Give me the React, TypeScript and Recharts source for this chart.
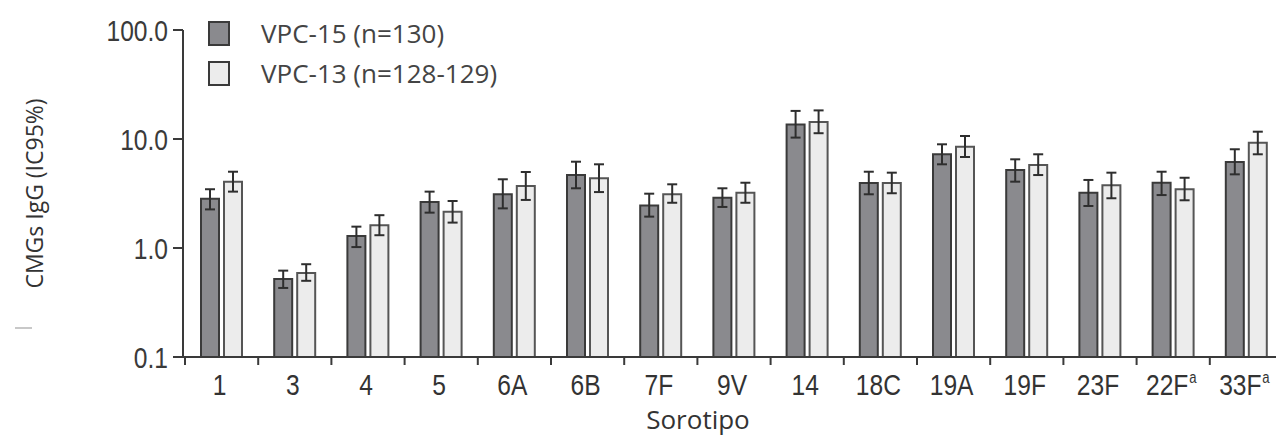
import { BarChart, Bar, XAxis, YAxis, ErrorBar, Legend, Label } from 'recharts'

// Serotypes along the category axis; 'a' marks the footnoted ones
const serotypes = ['1', '3', '4', '5', '6A', '6B', '7F', '9V', '14', '18C', '19A', '19F', '23F', '22F', '33F']
const footnotes = ['', '', '', '', '', '', '', '', '', '', '', '', '', 'a', 'a']

// IgG geometric mean concentrations with 95% CI
const vpc15Gmc = [2.83, 0.52, 1.29, 2.64, 3.11, 4.67, 2.46, 2.89, 13.6, 3.95, 7.24, 5.19, 3.22, 3.97, 6.15]
const vpc15Lower = [2.26, 0.43, 1.02, 2.11, 2.31, 3.53, 1.94, 2.38, 10.3, 3.11, 5.86, 4.06, 2.43, 3.06, 4.74]
const vpc15Upper = [3.46, 0.62, 1.57, 3.29, 4.27, 6.19, 3.15, 3.53, 18.1, 5.01, 8.94, 6.51, 4.21, 5.01, 8.05]

const vpc13Gmc = [4.06, 0.59, 1.62, 2.15, 3.71, 4.36, 3.11, 3.22, 14.3, 3.95, 8.5, 5.77, 3.76, 3.46, 9.25]
const vpc13Lower = [3.29, 0.5, 1.31, 1.71, 2.76, 3.26, 2.6, 2.6, 11.3, 3.18, 6.84, 4.67, 2.86, 2.74, 7.24]
const vpc13Upper = [5.01, 0.71, 2.0, 2.7, 4.98, 5.86, 3.84, 3.97, 18.3, 4.91, 10.65, 7.24, 4.91, 4.41, 11.67]

const yTicks = [0.1, 1, 10, 100]
const seriesNames = ['VPC-15 (n=130)', 'VPC-13 (n=128-129)']

const DARK = '#8a8a8e'
const LIGHT = '#ececec'
const INK = '#3a3a3a'
const seriesFills = [DARK, LIGHT]
const SANS = "'Liberation Sans', Arial, sans-serif"
const TEXT = "'Open Sans', 'Noto Sans', sans-serif"
// tick numbers are set in a condensed face; squeeze regular Liberation Sans instead
const SQUEEZE = 0.82

const data = serotypes.map((s, i) => ({
  serotype: s,
  vpc15: vpc15Gmc[i],
  vpc15Err: [vpc15Gmc[i] - vpc15Lower[i], vpc15Upper[i] - vpc15Gmc[i]],
  vpc13: vpc13Gmc[i],
  vpc13Err: [vpc13Gmc[i] - vpc13Lower[i], vpc13Upper[i] - vpc13Gmc[i]],
}))

interface TickProps { x?: number; y?: number; index?: number; payload?: { value: any; offset?: number } }

function SerotypeTick({ x = 0, y = 0, index = 0, payload }: TickProps) {
  const half = payload?.offset ?? 0
  const note = footnotes[index]
  return (
    <g>
      <line x1={x - half} x2={x - half} y1={y - 8} y2={y} stroke={INK} strokeWidth={2} />
      <text
        transform={`translate(${x - 2} ${y + 30}) scale(${SQUEEZE} 1)`}
        textAnchor="middle"
        fontFamily={SANS}
        fontSize={30}
        fill="#333"
      >
        <tspan>{payload?.value}</tspan>
        {note && <tspan dx={1} dy={-12} fontSize={16}>{note}</tspan>}
      </text>
    </g>
  )
}

function ValueTick({ x = 0, y = 0, payload }: TickProps) {
  return (
    <text
      transform={`translate(${x} ${y}) scale(${SQUEEZE} 1)`}
      textAnchor="end"
      dy="0.355em"
      fontFamily={SANS}
      fontSize={30}
      fill={INK}
    >
      {Number(payload?.value).toFixed(1)}
    </text>
  )
}

function SeriesKey() {
  return (
    <div style={{ fontFamily: TEXT, fontSize: 26, color: '#444', lineHeight: '40px' }}>
      {seriesNames.map((name, i) => (
        <div key={name} style={{ display: 'flex', alignItems: 'center', height: 40 }}>
          <span
            style={{
              display: 'inline-block',
              width: 22,
              height: 25,
              boxSizing: 'border-box',
              background: seriesFills[i],
              border: `2px solid ${INK}`,
              marginRight: 31,
            }}
          />
          <span>{name}</span>
        </div>
      ))}
    </div>
  )
}

export default function App() {
  return (
    <div style={{ position: 'absolute', left: 0, top: 0, width: 1276, height: 436, overflow: 'hidden', background: '#fff' }}>
      <div style={{ position: 'absolute', left: 15, top: 327, width: 17, height: 2, background: '#c8c8c8' }} />
      <BarChart
        width={1290}
        height={436}
        data={data}
        margin={{ top: 30, right: 7, bottom: 39, left: 0 }}
        barSize={18}
        barGap={5}
      >
        <XAxis
          dataKey="serotype"
          height={40}
          padding={{ left: 2, right: 0 }}
          axisLine={{ stroke: INK, strokeWidth: 2 }}
          tickLine={false}
          tickSize={8}
          tickMargin={0}
          interval={0}
          tick={<SerotypeTick />}
        >
          <Label
            content={({ viewBox }: any) => (
              <text
                x={viewBox.x + viewBox.width / 2 - 35}
                y={viewBox.y + 72}
                textAnchor="middle"
                fontFamily={TEXT}
                fontSize={26}
                fill="#333"
              >
                Sorotipo
              </text>
            )}
          />
        </XAxis>
        <YAxis
          scale="log"
          type="number"
          domain={[0.1, 100]}
          allowDataOverflow
          ticks={yTicks}
          width={183}
          axisLine={{ stroke: INK, strokeWidth: 2 }}
          tickLine={{ stroke: INK, strokeWidth: 2 }}
          tickSize={10}
          tickMargin={5}
          tick={<ValueTick />}
        >
          <Label
            content={({ viewBox }: any) => (
              <text
                x={34}
                y={viewBox.y + viewBox.height / 2}
                transform={`rotate(-90, 34, ${viewBox.y + viewBox.height / 2})`}
                textAnchor="middle"
                dominantBaseline="central"
                fontFamily={TEXT}
                fontSize={23}
                fill="#333"
              >
                CMGs IgG (IC95%)
              </text>
            )}
          />
        </YAxis>
        <Legend
          layout="vertical"
          align="center"
          verticalAlign="middle"
          wrapperStyle={{ left: 208, top: 13, width: 'auto', height: 'auto' }}
          content={<SeriesKey />}
        />
        <Bar dataKey="vpc15" name={seriesNames[0]} fill={DARK} stroke={INK} strokeWidth={2} isAnimationActive={false}>
          <ErrorBar dataKey="vpc15Err" direction="y" width={5} stroke="#2e2e2e" strokeWidth={2} isAnimationActive={false} />
        </Bar>
        <Bar dataKey="vpc13" name={seriesNames[1]} fill={LIGHT} stroke="#555" strokeWidth={2} isAnimationActive={false}>
          <ErrorBar dataKey="vpc13Err" direction="y" width={5} stroke="#2e2e2e" strokeWidth={2} isAnimationActive={false} />
        </Bar>
      </BarChart>
    </div>
  )
}
